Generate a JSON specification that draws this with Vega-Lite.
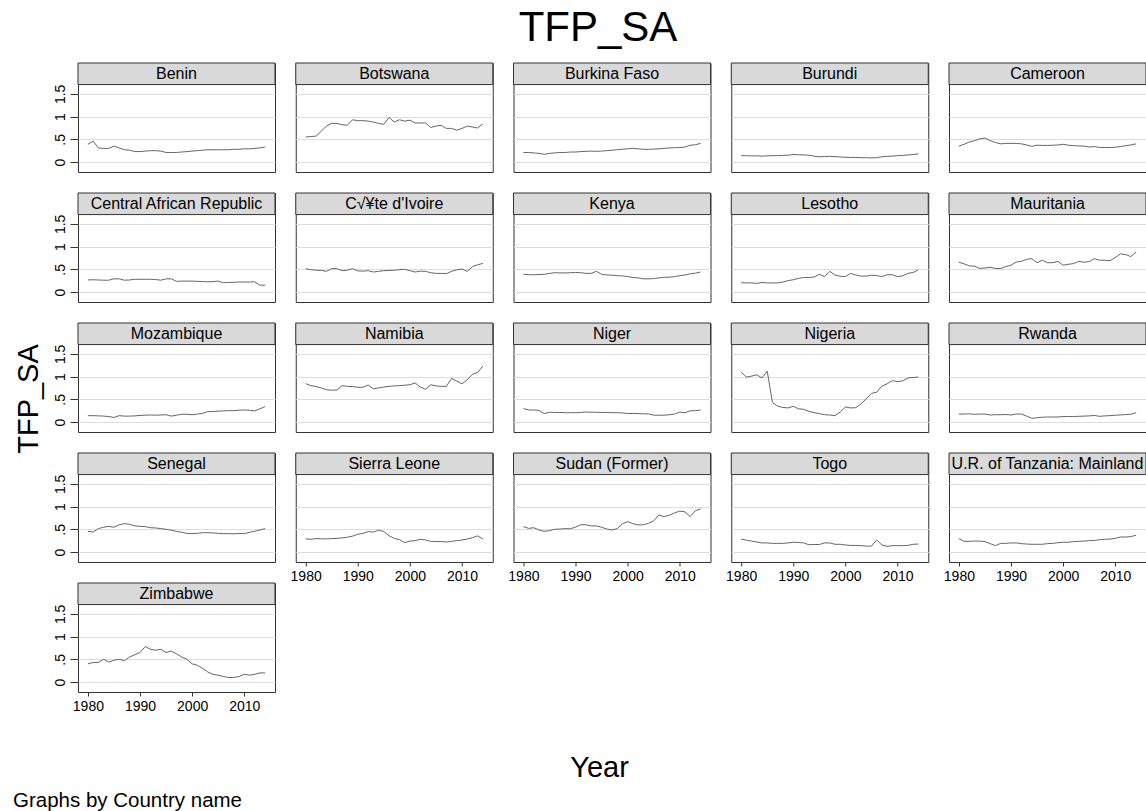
{
"$schema":"https://vega.github.io/schema/vega-lite/v6.json",
"background":"white",
"padding":{"left":13,"top":7,"right":0,"bottom":0},
"title":{"text":"Graphs by Country name","orient":"bottom","anchor":"start","fontSize":20.5,"fontWeight":"normal","font":"Liberation Sans","color":"#000000","offset":3},
"datasets":{
"Benin":[{"year":1980,"tfp":0.39},{"year":1981,"tfp":0.46},{"year":1982,"tfp":0.31},{"year":1983,"tfp":0.30},{"year":1984,"tfp":0.30},{"year":1985,"tfp":0.35},{"year":1986,"tfp":0.31},{"year":1987,"tfp":0.27},{"year":1988,"tfp":0.26},{"year":1989,"tfp":0.23},{"year":1990,"tfp":0.23},{"year":1991,"tfp":0.24},{"year":1992,"tfp":0.25},{"year":1993,"tfp":0.25},{"year":1994,"tfp":0.24},{"year":1995,"tfp":0.21},{"year":1996,"tfp":0.21},{"year":1997,"tfp":0.21},{"year":1998,"tfp":0.22},{"year":1999,"tfp":0.23},{"year":2000,"tfp":0.24},{"year":2001,"tfp":0.25},{"year":2002,"tfp":0.26},{"year":2003,"tfp":0.27},{"year":2004,"tfp":0.27},{"year":2005,"tfp":0.27},{"year":2006,"tfp":0.27},{"year":2007,"tfp":0.27},{"year":2008,"tfp":0.28},{"year":2009,"tfp":0.28},{"year":2010,"tfp":0.29},{"year":2011,"tfp":0.29},{"year":2012,"tfp":0.30},{"year":2013,"tfp":0.31},{"year":2014,"tfp":0.33}],
"Botswana":[{"year":1980,"tfp":0.55},{"year":1981,"tfp":0.56},{"year":1982,"tfp":0.57},{"year":1983,"tfp":0.68},{"year":1984,"tfp":0.79},{"year":1985,"tfp":0.85},{"year":1986,"tfp":0.85},{"year":1987,"tfp":0.82},{"year":1988,"tfp":0.81},{"year":1989,"tfp":0.93},{"year":1990,"tfp":0.91},{"year":1991,"tfp":0.91},{"year":1992,"tfp":0.90},{"year":1993,"tfp":0.88},{"year":1994,"tfp":0.85},{"year":1995,"tfp":0.83},{"year":1996,"tfp":0.98},{"year":1997,"tfp":0.88},{"year":1998,"tfp":0.93},{"year":1999,"tfp":0.90},{"year":2000,"tfp":0.92},{"year":2001,"tfp":0.86},{"year":2002,"tfp":0.86},{"year":2003,"tfp":0.86},{"year":2004,"tfp":0.76},{"year":2005,"tfp":0.79},{"year":2006,"tfp":0.81},{"year":2007,"tfp":0.74},{"year":2008,"tfp":0.74},{"year":2009,"tfp":0.70},{"year":2010,"tfp":0.74},{"year":2011,"tfp":0.79},{"year":2012,"tfp":0.77},{"year":2013,"tfp":0.75},{"year":2014,"tfp":0.84}],
"BurkinaFaso":[{"year":1980,"tfp":0.21},{"year":1981,"tfp":0.21},{"year":1982,"tfp":0.20},{"year":1983,"tfp":0.19},{"year":1984,"tfp":0.17},{"year":1985,"tfp":0.19},{"year":1986,"tfp":0.20},{"year":1987,"tfp":0.21},{"year":1988,"tfp":0.21},{"year":1989,"tfp":0.22},{"year":1990,"tfp":0.22},{"year":1991,"tfp":0.23},{"year":1992,"tfp":0.235},{"year":1993,"tfp":0.24},{"year":1994,"tfp":0.235},{"year":1995,"tfp":0.24},{"year":1996,"tfp":0.25},{"year":1997,"tfp":0.26},{"year":1998,"tfp":0.27},{"year":1999,"tfp":0.28},{"year":2000,"tfp":0.29},{"year":2001,"tfp":0.30},{"year":2002,"tfp":0.29},{"year":2003,"tfp":0.28},{"year":2004,"tfp":0.28},{"year":2005,"tfp":0.285},{"year":2006,"tfp":0.29},{"year":2007,"tfp":0.30},{"year":2008,"tfp":0.31},{"year":2009,"tfp":0.315},{"year":2010,"tfp":0.32},{"year":2011,"tfp":0.33},{"year":2012,"tfp":0.37},{"year":2013,"tfp":0.38},{"year":2014,"tfp":0.41}],
"Burundi":[{"year":1980,"tfp":0.14},{"year":1981,"tfp":0.14},{"year":1982,"tfp":0.135},{"year":1983,"tfp":0.135},{"year":1984,"tfp":0.13},{"year":1985,"tfp":0.135},{"year":1986,"tfp":0.14},{"year":1987,"tfp":0.14},{"year":1988,"tfp":0.145},{"year":1989,"tfp":0.15},{"year":1990,"tfp":0.165},{"year":1991,"tfp":0.16},{"year":1992,"tfp":0.155},{"year":1993,"tfp":0.15},{"year":1994,"tfp":0.13},{"year":1995,"tfp":0.115},{"year":1996,"tfp":0.12},{"year":1997,"tfp":0.125},{"year":1998,"tfp":0.12},{"year":1999,"tfp":0.11},{"year":2000,"tfp":0.105},{"year":2001,"tfp":0.10},{"year":2002,"tfp":0.10},{"year":2003,"tfp":0.095},{"year":2004,"tfp":0.095},{"year":2005,"tfp":0.09},{"year":2006,"tfp":0.095},{"year":2007,"tfp":0.115},{"year":2008,"tfp":0.125},{"year":2009,"tfp":0.13},{"year":2010,"tfp":0.14},{"year":2011,"tfp":0.145},{"year":2012,"tfp":0.155},{"year":2013,"tfp":0.165},{"year":2014,"tfp":0.18}],
"Cameroon":[{"year":1980,"tfp":0.35},{"year":1981,"tfp":0.39},{"year":1982,"tfp":0.44},{"year":1983,"tfp":0.47},{"year":1984,"tfp":0.51},{"year":1985,"tfp":0.53},{"year":1986,"tfp":0.47},{"year":1987,"tfp":0.43},{"year":1988,"tfp":0.40},{"year":1989,"tfp":0.41},{"year":1990,"tfp":0.41},{"year":1991,"tfp":0.41},{"year":1992,"tfp":0.40},{"year":1993,"tfp":0.375},{"year":1994,"tfp":0.345},{"year":1995,"tfp":0.37},{"year":1996,"tfp":0.365},{"year":1997,"tfp":0.365},{"year":1998,"tfp":0.37},{"year":1999,"tfp":0.375},{"year":2000,"tfp":0.39},{"year":2001,"tfp":0.37},{"year":2002,"tfp":0.36},{"year":2003,"tfp":0.355},{"year":2004,"tfp":0.35},{"year":2005,"tfp":0.33},{"year":2006,"tfp":0.34},{"year":2007,"tfp":0.32},{"year":2008,"tfp":0.32},{"year":2009,"tfp":0.32},{"year":2010,"tfp":0.325},{"year":2011,"tfp":0.34},{"year":2012,"tfp":0.36},{"year":2013,"tfp":0.375},{"year":2014,"tfp":0.40}],
"CAR":[{"year":1980,"tfp":0.265},{"year":1981,"tfp":0.27},{"year":1982,"tfp":0.265},{"year":1983,"tfp":0.26},{"year":1984,"tfp":0.26},{"year":1985,"tfp":0.29},{"year":1986,"tfp":0.29},{"year":1987,"tfp":0.26},{"year":1988,"tfp":0.265},{"year":1989,"tfp":0.28},{"year":1990,"tfp":0.28},{"year":1991,"tfp":0.28},{"year":1992,"tfp":0.28},{"year":1993,"tfp":0.275},{"year":1994,"tfp":0.26},{"year":1995,"tfp":0.29},{"year":1996,"tfp":0.29},{"year":1997,"tfp":0.235},{"year":1998,"tfp":0.24},{"year":1999,"tfp":0.24},{"year":2000,"tfp":0.24},{"year":2001,"tfp":0.235},{"year":2002,"tfp":0.23},{"year":2003,"tfp":0.225},{"year":2004,"tfp":0.23},{"year":2005,"tfp":0.24},{"year":2006,"tfp":0.205},{"year":2007,"tfp":0.21},{"year":2008,"tfp":0.215},{"year":2009,"tfp":0.22},{"year":2010,"tfp":0.22},{"year":2011,"tfp":0.22},{"year":2012,"tfp":0.225},{"year":2013,"tfp":0.15},{"year":2014,"tfp":0.15}],
"CIV":[{"year":1980,"tfp":0.515},{"year":1981,"tfp":0.49},{"year":1982,"tfp":0.48},{"year":1983,"tfp":0.475},{"year":1984,"tfp":0.455},{"year":1985,"tfp":0.515},{"year":1986,"tfp":0.515},{"year":1987,"tfp":0.47},{"year":1988,"tfp":0.48},{"year":1989,"tfp":0.515},{"year":1990,"tfp":0.465},{"year":1991,"tfp":0.46},{"year":1992,"tfp":0.47},{"year":1993,"tfp":0.44},{"year":1994,"tfp":0.455},{"year":1995,"tfp":0.47},{"year":1996,"tfp":0.475},{"year":1997,"tfp":0.48},{"year":1998,"tfp":0.49},{"year":1999,"tfp":0.50},{"year":2000,"tfp":0.47},{"year":2001,"tfp":0.44},{"year":2002,"tfp":0.46},{"year":2003,"tfp":0.455},{"year":2004,"tfp":0.425},{"year":2005,"tfp":0.41},{"year":2006,"tfp":0.41},{"year":2007,"tfp":0.405},{"year":2008,"tfp":0.455},{"year":2009,"tfp":0.49},{"year":2010,"tfp":0.505},{"year":2011,"tfp":0.455},{"year":2012,"tfp":0.56},{"year":2013,"tfp":0.60},{"year":2014,"tfp":0.63}],
"Kenya":[{"year":1980,"tfp":0.39},{"year":1981,"tfp":0.38},{"year":1982,"tfp":0.38},{"year":1983,"tfp":0.385},{"year":1984,"tfp":0.39},{"year":1985,"tfp":0.41},{"year":1986,"tfp":0.425},{"year":1987,"tfp":0.42},{"year":1988,"tfp":0.42},{"year":1989,"tfp":0.425},{"year":1990,"tfp":0.43},{"year":1991,"tfp":0.425},{"year":1992,"tfp":0.41},{"year":1993,"tfp":0.41},{"year":1994,"tfp":0.455},{"year":1995,"tfp":0.39},{"year":1996,"tfp":0.375},{"year":1997,"tfp":0.37},{"year":1998,"tfp":0.36},{"year":1999,"tfp":0.355},{"year":2000,"tfp":0.34},{"year":2001,"tfp":0.32},{"year":2002,"tfp":0.31},{"year":2003,"tfp":0.29},{"year":2004,"tfp":0.29},{"year":2005,"tfp":0.295},{"year":2006,"tfp":0.31},{"year":2007,"tfp":0.325},{"year":2008,"tfp":0.325},{"year":2009,"tfp":0.34},{"year":2010,"tfp":0.36},{"year":2011,"tfp":0.375},{"year":2012,"tfp":0.40},{"year":2013,"tfp":0.415},{"year":2014,"tfp":0.44}],
"Lesotho":[{"year":1980,"tfp":0.205},{"year":1981,"tfp":0.20},{"year":1982,"tfp":0.20},{"year":1983,"tfp":0.19},{"year":1984,"tfp":0.21},{"year":1985,"tfp":0.20},{"year":1986,"tfp":0.20},{"year":1987,"tfp":0.20},{"year":1988,"tfp":0.22},{"year":1989,"tfp":0.25},{"year":1990,"tfp":0.27},{"year":1991,"tfp":0.30},{"year":1992,"tfp":0.32},{"year":1993,"tfp":0.32},{"year":1994,"tfp":0.33},{"year":1995,"tfp":0.39},{"year":1996,"tfp":0.34},{"year":1997,"tfp":0.455},{"year":1998,"tfp":0.375},{"year":1999,"tfp":0.345},{"year":2000,"tfp":0.34},{"year":2001,"tfp":0.41},{"year":2002,"tfp":0.375},{"year":2003,"tfp":0.35},{"year":2004,"tfp":0.35},{"year":2005,"tfp":0.37},{"year":2006,"tfp":0.36},{"year":2007,"tfp":0.34},{"year":2008,"tfp":0.38},{"year":2009,"tfp":0.38},{"year":2010,"tfp":0.34},{"year":2011,"tfp":0.355},{"year":2012,"tfp":0.41},{"year":2013,"tfp":0.43},{"year":2014,"tfp":0.49}],
"Mauritania":[{"year":1980,"tfp":0.655},{"year":1981,"tfp":0.62},{"year":1982,"tfp":0.575},{"year":1983,"tfp":0.57},{"year":1984,"tfp":0.52},{"year":1985,"tfp":0.53},{"year":1986,"tfp":0.545},{"year":1987,"tfp":0.52},{"year":1988,"tfp":0.515},{"year":1989,"tfp":0.56},{"year":1990,"tfp":0.59},{"year":1991,"tfp":0.66},{"year":1992,"tfp":0.675},{"year":1993,"tfp":0.72},{"year":1994,"tfp":0.735},{"year":1995,"tfp":0.645},{"year":1996,"tfp":0.70},{"year":1997,"tfp":0.645},{"year":1998,"tfp":0.645},{"year":1999,"tfp":0.675},{"year":2000,"tfp":0.59},{"year":2001,"tfp":0.61},{"year":2002,"tfp":0.625},{"year":2003,"tfp":0.675},{"year":2004,"tfp":0.655},{"year":2005,"tfp":0.67},{"year":2006,"tfp":0.735},{"year":2007,"tfp":0.70},{"year":2008,"tfp":0.70},{"year":2009,"tfp":0.69},{"year":2010,"tfp":0.76},{"year":2011,"tfp":0.84},{"year":2012,"tfp":0.825},{"year":2013,"tfp":0.78},{"year":2014,"tfp":0.88}],
"Mozambique":[{"year":1980,"tfp":0.14},{"year":1981,"tfp":0.14},{"year":1982,"tfp":0.135},{"year":1983,"tfp":0.13},{"year":1984,"tfp":0.12},{"year":1985,"tfp":0.10},{"year":1986,"tfp":0.14},{"year":1987,"tfp":0.13},{"year":1988,"tfp":0.13},{"year":1989,"tfp":0.135},{"year":1990,"tfp":0.145},{"year":1991,"tfp":0.15},{"year":1992,"tfp":0.155},{"year":1993,"tfp":0.15},{"year":1994,"tfp":0.155},{"year":1995,"tfp":0.16},{"year":1996,"tfp":0.13},{"year":1997,"tfp":0.15},{"year":1998,"tfp":0.17},{"year":1999,"tfp":0.17},{"year":2000,"tfp":0.16},{"year":2001,"tfp":0.175},{"year":2002,"tfp":0.19},{"year":2003,"tfp":0.23},{"year":2004,"tfp":0.23},{"year":2005,"tfp":0.24},{"year":2006,"tfp":0.245},{"year":2007,"tfp":0.25},{"year":2008,"tfp":0.25},{"year":2009,"tfp":0.26},{"year":2010,"tfp":0.265},{"year":2011,"tfp":0.26},{"year":2012,"tfp":0.245},{"year":2013,"tfp":0.29},{"year":2014,"tfp":0.34}],
"Namibia":[{"year":1980,"tfp":0.845},{"year":1981,"tfp":0.80},{"year":1982,"tfp":0.78},{"year":1983,"tfp":0.75},{"year":1984,"tfp":0.71},{"year":1985,"tfp":0.70},{"year":1986,"tfp":0.705},{"year":1987,"tfp":0.80},{"year":1988,"tfp":0.785},{"year":1989,"tfp":0.78},{"year":1990,"tfp":0.765},{"year":1991,"tfp":0.765},{"year":1992,"tfp":0.815},{"year":1993,"tfp":0.73},{"year":1994,"tfp":0.75},{"year":1995,"tfp":0.77},{"year":1996,"tfp":0.785},{"year":1997,"tfp":0.795},{"year":1998,"tfp":0.80},{"year":1999,"tfp":0.81},{"year":2000,"tfp":0.82},{"year":2001,"tfp":0.86},{"year":2002,"tfp":0.77},{"year":2003,"tfp":0.72},{"year":2004,"tfp":0.82},{"year":2005,"tfp":0.795},{"year":2006,"tfp":0.785},{"year":2007,"tfp":0.785},{"year":2008,"tfp":0.96},{"year":2009,"tfp":0.90},{"year":2010,"tfp":0.84},{"year":2011,"tfp":0.93},{"year":2012,"tfp":1.05},{"year":2013,"tfp":1.09},{"year":2014,"tfp":1.23}],
"Niger":[{"year":1980,"tfp":0.295},{"year":1981,"tfp":0.265},{"year":1982,"tfp":0.265},{"year":1983,"tfp":0.255},{"year":1984,"tfp":0.185},{"year":1985,"tfp":0.215},{"year":1986,"tfp":0.21},{"year":1987,"tfp":0.21},{"year":1988,"tfp":0.205},{"year":1989,"tfp":0.205},{"year":1990,"tfp":0.205},{"year":1991,"tfp":0.21},{"year":1992,"tfp":0.22},{"year":1993,"tfp":0.215},{"year":1994,"tfp":0.215},{"year":1995,"tfp":0.21},{"year":1996,"tfp":0.21},{"year":1997,"tfp":0.205},{"year":1998,"tfp":0.205},{"year":1999,"tfp":0.20},{"year":2000,"tfp":0.185},{"year":2001,"tfp":0.19},{"year":2002,"tfp":0.185},{"year":2003,"tfp":0.18},{"year":2004,"tfp":0.18},{"year":2005,"tfp":0.15},{"year":2006,"tfp":0.15},{"year":2007,"tfp":0.15},{"year":2008,"tfp":0.16},{"year":2009,"tfp":0.175},{"year":2010,"tfp":0.22},{"year":2011,"tfp":0.205},{"year":2012,"tfp":0.245},{"year":2013,"tfp":0.25},{"year":2014,"tfp":0.265}],
"Nigeria":[{"year":1980,"tfp":1.10},{"year":1981,"tfp":0.99},{"year":1982,"tfp":1.01},{"year":1983,"tfp":1.04},{"year":1984,"tfp":0.97},{"year":1985,"tfp":1.12},{"year":1986,"tfp":0.43},{"year":1987,"tfp":0.35},{"year":1988,"tfp":0.32},{"year":1989,"tfp":0.31},{"year":1990,"tfp":0.345},{"year":1991,"tfp":0.29},{"year":1992,"tfp":0.28},{"year":1993,"tfp":0.235},{"year":1994,"tfp":0.205},{"year":1995,"tfp":0.185},{"year":1996,"tfp":0.16},{"year":1997,"tfp":0.155},{"year":1998,"tfp":0.14},{"year":1999,"tfp":0.22},{"year":2000,"tfp":0.33},{"year":2001,"tfp":0.31},{"year":2002,"tfp":0.315},{"year":2003,"tfp":0.40},{"year":2004,"tfp":0.51},{"year":2005,"tfp":0.63},{"year":2006,"tfp":0.655},{"year":2007,"tfp":0.79},{"year":2008,"tfp":0.84},{"year":2009,"tfp":0.91},{"year":2010,"tfp":0.89},{"year":2011,"tfp":0.905},{"year":2012,"tfp":0.97},{"year":2013,"tfp":0.98},{"year":2014,"tfp":0.99}],
"Rwanda":[{"year":1980,"tfp":0.175},{"year":1981,"tfp":0.175},{"year":1982,"tfp":0.18},{"year":1983,"tfp":0.17},{"year":1984,"tfp":0.175},{"year":1985,"tfp":0.175},{"year":1986,"tfp":0.155},{"year":1987,"tfp":0.16},{"year":1988,"tfp":0.16},{"year":1989,"tfp":0.165},{"year":1990,"tfp":0.155},{"year":1991,"tfp":0.175},{"year":1992,"tfp":0.175},{"year":1993,"tfp":0.13},{"year":1994,"tfp":0.08},{"year":1995,"tfp":0.095},{"year":1996,"tfp":0.105},{"year":1997,"tfp":0.11},{"year":1998,"tfp":0.11},{"year":1999,"tfp":0.11},{"year":2000,"tfp":0.12},{"year":2001,"tfp":0.12},{"year":2002,"tfp":0.12},{"year":2003,"tfp":0.125},{"year":2004,"tfp":0.13},{"year":2005,"tfp":0.135},{"year":2006,"tfp":0.145},{"year":2007,"tfp":0.125},{"year":2008,"tfp":0.135},{"year":2009,"tfp":0.14},{"year":2010,"tfp":0.15},{"year":2011,"tfp":0.155},{"year":2012,"tfp":0.165},{"year":2013,"tfp":0.17},{"year":2014,"tfp":0.205}],
"Senegal":[{"year":1980,"tfp":0.455},{"year":1981,"tfp":0.44},{"year":1982,"tfp":0.515},{"year":1983,"tfp":0.545},{"year":1984,"tfp":0.565},{"year":1985,"tfp":0.545},{"year":1986,"tfp":0.60},{"year":1987,"tfp":0.625},{"year":1988,"tfp":0.61},{"year":1989,"tfp":0.575},{"year":1990,"tfp":0.565},{"year":1991,"tfp":0.56},{"year":1992,"tfp":0.535},{"year":1993,"tfp":0.53},{"year":1994,"tfp":0.515},{"year":1995,"tfp":0.50},{"year":1996,"tfp":0.48},{"year":1997,"tfp":0.455},{"year":1998,"tfp":0.435},{"year":1999,"tfp":0.41},{"year":2000,"tfp":0.405},{"year":2001,"tfp":0.41},{"year":2002,"tfp":0.425},{"year":2003,"tfp":0.425},{"year":2004,"tfp":0.42},{"year":2005,"tfp":0.41},{"year":2006,"tfp":0.405},{"year":2007,"tfp":0.405},{"year":2008,"tfp":0.40},{"year":2009,"tfp":0.41},{"year":2010,"tfp":0.405},{"year":2011,"tfp":0.435},{"year":2012,"tfp":0.455},{"year":2013,"tfp":0.485},{"year":2014,"tfp":0.515}],
"SierraLeone":[{"year":1980,"tfp":0.29},{"year":1981,"tfp":0.28},{"year":1982,"tfp":0.295},{"year":1983,"tfp":0.29},{"year":1984,"tfp":0.29},{"year":1985,"tfp":0.295},{"year":1986,"tfp":0.30},{"year":1987,"tfp":0.31},{"year":1988,"tfp":0.325},{"year":1989,"tfp":0.35},{"year":1990,"tfp":0.39},{"year":1991,"tfp":0.41},{"year":1992,"tfp":0.45},{"year":1993,"tfp":0.44},{"year":1994,"tfp":0.48},{"year":1995,"tfp":0.45},{"year":1996,"tfp":0.36},{"year":1997,"tfp":0.30},{"year":1998,"tfp":0.27},{"year":1999,"tfp":0.205},{"year":2000,"tfp":0.24},{"year":2001,"tfp":0.25},{"year":2002,"tfp":0.28},{"year":2003,"tfp":0.265},{"year":2004,"tfp":0.235},{"year":2005,"tfp":0.23},{"year":2006,"tfp":0.23},{"year":2007,"tfp":0.22},{"year":2008,"tfp":0.235},{"year":2009,"tfp":0.25},{"year":2010,"tfp":0.265},{"year":2011,"tfp":0.285},{"year":2012,"tfp":0.315},{"year":2013,"tfp":0.355},{"year":2014,"tfp":0.285}],
"Sudan":[{"year":1980,"tfp":0.56},{"year":1981,"tfp":0.52},{"year":1982,"tfp":0.535},{"year":1983,"tfp":0.485},{"year":1984,"tfp":0.455},{"year":1985,"tfp":0.47},{"year":1986,"tfp":0.50},{"year":1987,"tfp":0.505},{"year":1988,"tfp":0.515},{"year":1989,"tfp":0.51},{"year":1990,"tfp":0.55},{"year":1991,"tfp":0.60},{"year":1992,"tfp":0.60},{"year":1993,"tfp":0.575},{"year":1994,"tfp":0.575},{"year":1995,"tfp":0.545},{"year":1996,"tfp":0.505},{"year":1997,"tfp":0.485},{"year":1998,"tfp":0.515},{"year":1999,"tfp":0.62},{"year":2000,"tfp":0.67},{"year":2001,"tfp":0.625},{"year":2002,"tfp":0.595},{"year":2003,"tfp":0.60},{"year":2004,"tfp":0.63},{"year":2005,"tfp":0.685},{"year":2006,"tfp":0.815},{"year":2007,"tfp":0.78},{"year":2008,"tfp":0.81},{"year":2009,"tfp":0.86},{"year":2010,"tfp":0.90},{"year":2011,"tfp":0.885},{"year":2012,"tfp":0.78},{"year":2013,"tfp":0.91},{"year":2014,"tfp":0.95}],
"Togo":[{"year":1980,"tfp":0.285},{"year":1981,"tfp":0.26},{"year":1982,"tfp":0.24},{"year":1983,"tfp":0.22},{"year":1984,"tfp":0.20},{"year":1985,"tfp":0.20},{"year":1986,"tfp":0.19},{"year":1987,"tfp":0.19},{"year":1988,"tfp":0.19},{"year":1989,"tfp":0.20},{"year":1990,"tfp":0.215},{"year":1991,"tfp":0.21},{"year":1992,"tfp":0.20},{"year":1993,"tfp":0.16},{"year":1994,"tfp":0.165},{"year":1995,"tfp":0.165},{"year":1996,"tfp":0.20},{"year":1997,"tfp":0.20},{"year":1998,"tfp":0.17},{"year":1999,"tfp":0.17},{"year":2000,"tfp":0.155},{"year":2001,"tfp":0.145},{"year":2002,"tfp":0.145},{"year":2003,"tfp":0.14},{"year":2004,"tfp":0.13},{"year":2005,"tfp":0.13},{"year":2006,"tfp":0.265},{"year":2007,"tfp":0.155},{"year":2008,"tfp":0.125},{"year":2009,"tfp":0.14},{"year":2010,"tfp":0.14},{"year":2011,"tfp":0.14},{"year":2012,"tfp":0.145},{"year":2013,"tfp":0.17},{"year":2014,"tfp":0.175}],
"Tanzania":[{"year":1980,"tfp":0.295},{"year":1981,"tfp":0.235},{"year":1982,"tfp":0.235},{"year":1983,"tfp":0.24},{"year":1984,"tfp":0.24},{"year":1985,"tfp":0.23},{"year":1986,"tfp":0.185},{"year":1987,"tfp":0.14},{"year":1988,"tfp":0.19},{"year":1989,"tfp":0.19},{"year":1990,"tfp":0.20},{"year":1991,"tfp":0.20},{"year":1992,"tfp":0.185},{"year":1993,"tfp":0.175},{"year":1994,"tfp":0.17},{"year":1995,"tfp":0.17},{"year":1996,"tfp":0.17},{"year":1997,"tfp":0.185},{"year":1998,"tfp":0.19},{"year":1999,"tfp":0.205},{"year":2000,"tfp":0.215},{"year":2001,"tfp":0.215},{"year":2002,"tfp":0.23},{"year":2003,"tfp":0.235},{"year":2004,"tfp":0.24},{"year":2005,"tfp":0.25},{"year":2006,"tfp":0.255},{"year":2007,"tfp":0.27},{"year":2008,"tfp":0.28},{"year":2009,"tfp":0.285},{"year":2010,"tfp":0.30},{"year":2011,"tfp":0.33},{"year":2012,"tfp":0.33},{"year":2013,"tfp":0.34},{"year":2014,"tfp":0.37}],
"Zimbabwe":[{"year":1980,"tfp":0.40},{"year":1981,"tfp":0.43},{"year":1982,"tfp":0.43},{"year":1983,"tfp":0.50},{"year":1984,"tfp":0.44},{"year":1985,"tfp":0.48},{"year":1986,"tfp":0.50},{"year":1987,"tfp":0.47},{"year":1988,"tfp":0.55},{"year":1989,"tfp":0.60},{"year":1990,"tfp":0.65},{"year":1991,"tfp":0.78},{"year":1992,"tfp":0.72},{"year":1993,"tfp":0.70},{"year":1994,"tfp":0.72},{"year":1995,"tfp":0.65},{"year":1996,"tfp":0.68},{"year":1997,"tfp":0.62},{"year":1998,"tfp":0.55},{"year":1999,"tfp":0.50},{"year":2000,"tfp":0.40},{"year":2001,"tfp":0.37},{"year":2002,"tfp":0.30},{"year":2003,"tfp":0.22},{"year":2004,"tfp":0.17},{"year":2005,"tfp":0.15},{"year":2006,"tfp":0.12},{"year":2007,"tfp":0.10},{"year":2008,"tfp":0.10},{"year":2009,"tfp":0.12},{"year":2010,"tfp":0.17},{"year":2011,"tfp":0.15},{"year":2012,"tfp":0.17},{"year":2013,"tfp":0.20},{"year":2014,"tfp":0.20}]
},
"spacing":13,
"vconcat":[
{"title":{"text":"TFP_SA","fontSize":42,"fontWeight":"normal","font":"Liberation Sans","color":"#000000","anchor":"middle","offset":12,"dx":18},
"spacing":7,
"hconcat":[
{"width":32,"height":672,"view":{"stroke":null},"data":{"values":[{"t":"TFP_SA"}]},"mark":{"type":"text","angle":270,"fontSize":29,"align":"center","baseline":"middle","font":"Liberation Sans","color":"#000000"},"encoding":{"text":{"field":"t"}}},
{"columns":5,"bounds":"flush","spacing":{"row":21,"column":20.75},"concat":[
{"width":197,"height":109,"layer":[{"data":{"name":"Benin"},"mark":{"type":"line","color":"#666666","strokeWidth":1},"encoding":{"x":{"field":"year","type":"quantitative","scale":{"domain":[1978.1,2015.9],"nice":false,"zero":false},"axis":null},"y":{"field":"tfp","type":"quantitative","scale":{"domain":[-0.22,2.18],"nice":false,"zero":false},"axis":{"title":null,"values":[0,0.5,1,1.5],"tickCount":8,"grid":true,"labelOverlap":false,"labelExpr":"replace(format(datum.value,'~g'),'0.','.')","labelAngle":270,"labelAlign":"center","labelBaseline":"bottom","labelFontSize":14,"tickSize":8,"labelPadding":3}}}},{"data":{"values":[{"country":"Benin"}]},"layer":[{"mark":{"type":"rect","fill":"#d9d9d9","stroke":"#333333","strokeWidth":1},"encoding":{"x":{"datum":1978.1},"x2":{"datum":2015.9},"y":{"datum":1.705},"y2":{"datum":2.18}}},{"mark":{"type":"text","fontSize":16,"baseline":"middle","color":"#000000"},"encoding":{"x":{"datum":1997},"y":{"datum":1.9425},"text":{"field":"country"}}}]}]},
{"width":197,"height":109,"layer":[{"data":{"name":"Botswana"},"mark":{"type":"line","color":"#666666","strokeWidth":1},"encoding":{"x":{"field":"year","type":"quantitative","scale":{"domain":[1978.1,2015.9],"nice":false,"zero":false},"axis":null},"y":{"field":"tfp","type":"quantitative","scale":{"domain":[-0.22,2.18],"nice":false,"zero":false},"axis":{"title":null,"values":[0,0.5,1,1.5],"tickCount":8,"grid":true,"labels":false,"ticks":false}}}},{"data":{"values":[{"country":"Botswana"}]},"layer":[{"mark":{"type":"rect","fill":"#d9d9d9","stroke":"#333333","strokeWidth":1},"encoding":{"x":{"datum":1978.1},"x2":{"datum":2015.9},"y":{"datum":1.705},"y2":{"datum":2.18}}},{"mark":{"type":"text","fontSize":16,"baseline":"middle","color":"#000000"},"encoding":{"x":{"datum":1997},"y":{"datum":1.9425},"text":{"field":"country"}}}]}]},
{"width":197,"height":109,"layer":[{"data":{"name":"BurkinaFaso"},"mark":{"type":"line","color":"#666666","strokeWidth":1},"encoding":{"x":{"field":"year","type":"quantitative","scale":{"domain":[1978.1,2015.9],"nice":false,"zero":false},"axis":null},"y":{"field":"tfp","type":"quantitative","scale":{"domain":[-0.22,2.18],"nice":false,"zero":false},"axis":{"title":null,"values":[0,0.5,1,1.5],"tickCount":8,"grid":true,"labels":false,"ticks":false}}}},{"data":{"values":[{"country":"Burkina Faso"}]},"layer":[{"mark":{"type":"rect","fill":"#d9d9d9","stroke":"#333333","strokeWidth":1},"encoding":{"x":{"datum":1978.1},"x2":{"datum":2015.9},"y":{"datum":1.705},"y2":{"datum":2.18}}},{"mark":{"type":"text","fontSize":16,"baseline":"middle","color":"#000000"},"encoding":{"x":{"datum":1997},"y":{"datum":1.9425},"text":{"field":"country"}}}]}]},
{"width":197,"height":109,"layer":[{"data":{"name":"Burundi"},"mark":{"type":"line","color":"#666666","strokeWidth":1},"encoding":{"x":{"field":"year","type":"quantitative","scale":{"domain":[1978.1,2015.9],"nice":false,"zero":false},"axis":null},"y":{"field":"tfp","type":"quantitative","scale":{"domain":[-0.22,2.18],"nice":false,"zero":false},"axis":{"title":null,"values":[0,0.5,1,1.5],"tickCount":8,"grid":true,"labels":false,"ticks":false}}}},{"data":{"values":[{"country":"Burundi"}]},"layer":[{"mark":{"type":"rect","fill":"#d9d9d9","stroke":"#333333","strokeWidth":1},"encoding":{"x":{"datum":1978.1},"x2":{"datum":2015.9},"y":{"datum":1.705},"y2":{"datum":2.18}}},{"mark":{"type":"text","fontSize":16,"baseline":"middle","color":"#000000"},"encoding":{"x":{"datum":1997},"y":{"datum":1.9425},"text":{"field":"country"}}}]}]},
{"width":197,"height":109,"layer":[{"data":{"name":"Cameroon"},"mark":{"type":"line","color":"#666666","strokeWidth":1},"encoding":{"x":{"field":"year","type":"quantitative","scale":{"domain":[1978.1,2015.9],"nice":false,"zero":false},"axis":null},"y":{"field":"tfp","type":"quantitative","scale":{"domain":[-0.22,2.18],"nice":false,"zero":false},"axis":{"title":null,"values":[0,0.5,1,1.5],"tickCount":8,"grid":true,"labels":false,"ticks":false}}}},{"data":{"values":[{"country":"Cameroon"}]},"layer":[{"mark":{"type":"rect","fill":"#d9d9d9","stroke":"#333333","strokeWidth":1},"encoding":{"x":{"datum":1978.1},"x2":{"datum":2015.9},"y":{"datum":1.705},"y2":{"datum":2.18}}},{"mark":{"type":"text","fontSize":16,"baseline":"middle","color":"#000000"},"encoding":{"x":{"datum":1997},"y":{"datum":1.9425},"text":{"field":"country"}}}]}]},
{"width":197,"height":109,"layer":[{"data":{"name":"CAR"},"mark":{"type":"line","color":"#666666","strokeWidth":1},"encoding":{"x":{"field":"year","type":"quantitative","scale":{"domain":[1978.1,2015.9],"nice":false,"zero":false},"axis":null},"y":{"field":"tfp","type":"quantitative","scale":{"domain":[-0.22,2.18],"nice":false,"zero":false},"axis":{"title":null,"values":[0,0.5,1,1.5],"tickCount":8,"grid":true,"labelOverlap":false,"labelExpr":"replace(format(datum.value,'~g'),'0.','.')","labelAngle":270,"labelAlign":"center","labelBaseline":"bottom","labelFontSize":14,"tickSize":8,"labelPadding":3}}}},{"data":{"values":[{"country":"Central African Republic"}]},"layer":[{"mark":{"type":"rect","fill":"#d9d9d9","stroke":"#333333","strokeWidth":1},"encoding":{"x":{"datum":1978.1},"x2":{"datum":2015.9},"y":{"datum":1.705},"y2":{"datum":2.18}}},{"mark":{"type":"text","fontSize":16,"baseline":"middle","color":"#000000"},"encoding":{"x":{"datum":1997},"y":{"datum":1.9425},"text":{"field":"country"}}}]}]},
{"width":197,"height":109,"layer":[{"data":{"name":"CIV"},"mark":{"type":"line","color":"#666666","strokeWidth":1},"encoding":{"x":{"field":"year","type":"quantitative","scale":{"domain":[1978.1,2015.9],"nice":false,"zero":false},"axis":null},"y":{"field":"tfp","type":"quantitative","scale":{"domain":[-0.22,2.18],"nice":false,"zero":false},"axis":{"title":null,"values":[0,0.5,1,1.5],"tickCount":8,"grid":true,"labels":false,"ticks":false}}}},{"data":{"values":[{"country":"C√¥te d'Ivoire"}]},"layer":[{"mark":{"type":"rect","fill":"#d9d9d9","stroke":"#333333","strokeWidth":1},"encoding":{"x":{"datum":1978.1},"x2":{"datum":2015.9},"y":{"datum":1.705},"y2":{"datum":2.18}}},{"mark":{"type":"text","fontSize":16,"baseline":"middle","color":"#000000"},"encoding":{"x":{"datum":1997},"y":{"datum":1.9425},"text":{"field":"country"}}}]}]},
{"width":197,"height":109,"layer":[{"data":{"name":"Kenya"},"mark":{"type":"line","color":"#666666","strokeWidth":1},"encoding":{"x":{"field":"year","type":"quantitative","scale":{"domain":[1978.1,2015.9],"nice":false,"zero":false},"axis":null},"y":{"field":"tfp","type":"quantitative","scale":{"domain":[-0.22,2.18],"nice":false,"zero":false},"axis":{"title":null,"values":[0,0.5,1,1.5],"tickCount":8,"grid":true,"labels":false,"ticks":false}}}},{"data":{"values":[{"country":"Kenya"}]},"layer":[{"mark":{"type":"rect","fill":"#d9d9d9","stroke":"#333333","strokeWidth":1},"encoding":{"x":{"datum":1978.1},"x2":{"datum":2015.9},"y":{"datum":1.705},"y2":{"datum":2.18}}},{"mark":{"type":"text","fontSize":16,"baseline":"middle","color":"#000000"},"encoding":{"x":{"datum":1997},"y":{"datum":1.9425},"text":{"field":"country"}}}]}]},
{"width":197,"height":109,"layer":[{"data":{"name":"Lesotho"},"mark":{"type":"line","color":"#666666","strokeWidth":1},"encoding":{"x":{"field":"year","type":"quantitative","scale":{"domain":[1978.1,2015.9],"nice":false,"zero":false},"axis":null},"y":{"field":"tfp","type":"quantitative","scale":{"domain":[-0.22,2.18],"nice":false,"zero":false},"axis":{"title":null,"values":[0,0.5,1,1.5],"tickCount":8,"grid":true,"labels":false,"ticks":false}}}},{"data":{"values":[{"country":"Lesotho"}]},"layer":[{"mark":{"type":"rect","fill":"#d9d9d9","stroke":"#333333","strokeWidth":1},"encoding":{"x":{"datum":1978.1},"x2":{"datum":2015.9},"y":{"datum":1.705},"y2":{"datum":2.18}}},{"mark":{"type":"text","fontSize":16,"baseline":"middle","color":"#000000"},"encoding":{"x":{"datum":1997},"y":{"datum":1.9425},"text":{"field":"country"}}}]}]},
{"width":197,"height":109,"layer":[{"data":{"name":"Mauritania"},"mark":{"type":"line","color":"#666666","strokeWidth":1},"encoding":{"x":{"field":"year","type":"quantitative","scale":{"domain":[1978.1,2015.9],"nice":false,"zero":false},"axis":null},"y":{"field":"tfp","type":"quantitative","scale":{"domain":[-0.22,2.18],"nice":false,"zero":false},"axis":{"title":null,"values":[0,0.5,1,1.5],"tickCount":8,"grid":true,"labels":false,"ticks":false}}}},{"data":{"values":[{"country":"Mauritania"}]},"layer":[{"mark":{"type":"rect","fill":"#d9d9d9","stroke":"#333333","strokeWidth":1},"encoding":{"x":{"datum":1978.1},"x2":{"datum":2015.9},"y":{"datum":1.705},"y2":{"datum":2.18}}},{"mark":{"type":"text","fontSize":16,"baseline":"middle","color":"#000000"},"encoding":{"x":{"datum":1997},"y":{"datum":1.9425},"text":{"field":"country"}}}]}]},
{"width":197,"height":109,"layer":[{"data":{"name":"Mozambique"},"mark":{"type":"line","color":"#666666","strokeWidth":1},"encoding":{"x":{"field":"year","type":"quantitative","scale":{"domain":[1978.1,2015.9],"nice":false,"zero":false},"axis":null},"y":{"field":"tfp","type":"quantitative","scale":{"domain":[-0.22,2.18],"nice":false,"zero":false},"axis":{"title":null,"values":[0,0.5,1,1.5],"tickCount":8,"grid":true,"labelOverlap":false,"labelExpr":"replace(format(datum.value,'~g'),'0.','.')","labelAngle":270,"labelAlign":"center","labelBaseline":"bottom","labelFontSize":14,"tickSize":8,"labelPadding":3}}}},{"data":{"values":[{"country":"Mozambique"}]},"layer":[{"mark":{"type":"rect","fill":"#d9d9d9","stroke":"#333333","strokeWidth":1},"encoding":{"x":{"datum":1978.1},"x2":{"datum":2015.9},"y":{"datum":1.705},"y2":{"datum":2.18}}},{"mark":{"type":"text","fontSize":16,"baseline":"middle","color":"#000000"},"encoding":{"x":{"datum":1997},"y":{"datum":1.9425},"text":{"field":"country"}}}]}]},
{"width":197,"height":109,"layer":[{"data":{"name":"Namibia"},"mark":{"type":"line","color":"#666666","strokeWidth":1},"encoding":{"x":{"field":"year","type":"quantitative","scale":{"domain":[1978.1,2015.9],"nice":false,"zero":false},"axis":null},"y":{"field":"tfp","type":"quantitative","scale":{"domain":[-0.22,2.18],"nice":false,"zero":false},"axis":{"title":null,"values":[0,0.5,1,1.5],"tickCount":8,"grid":true,"labels":false,"ticks":false}}}},{"data":{"values":[{"country":"Namibia"}]},"layer":[{"mark":{"type":"rect","fill":"#d9d9d9","stroke":"#333333","strokeWidth":1},"encoding":{"x":{"datum":1978.1},"x2":{"datum":2015.9},"y":{"datum":1.705},"y2":{"datum":2.18}}},{"mark":{"type":"text","fontSize":16,"baseline":"middle","color":"#000000"},"encoding":{"x":{"datum":1997},"y":{"datum":1.9425},"text":{"field":"country"}}}]}]},
{"width":197,"height":109,"layer":[{"data":{"name":"Niger"},"mark":{"type":"line","color":"#666666","strokeWidth":1},"encoding":{"x":{"field":"year","type":"quantitative","scale":{"domain":[1978.1,2015.9],"nice":false,"zero":false},"axis":null},"y":{"field":"tfp","type":"quantitative","scale":{"domain":[-0.22,2.18],"nice":false,"zero":false},"axis":{"title":null,"values":[0,0.5,1,1.5],"tickCount":8,"grid":true,"labels":false,"ticks":false}}}},{"data":{"values":[{"country":"Niger"}]},"layer":[{"mark":{"type":"rect","fill":"#d9d9d9","stroke":"#333333","strokeWidth":1},"encoding":{"x":{"datum":1978.1},"x2":{"datum":2015.9},"y":{"datum":1.705},"y2":{"datum":2.18}}},{"mark":{"type":"text","fontSize":16,"baseline":"middle","color":"#000000"},"encoding":{"x":{"datum":1997},"y":{"datum":1.9425},"text":{"field":"country"}}}]}]},
{"width":197,"height":109,"layer":[{"data":{"name":"Nigeria"},"mark":{"type":"line","color":"#666666","strokeWidth":1},"encoding":{"x":{"field":"year","type":"quantitative","scale":{"domain":[1978.1,2015.9],"nice":false,"zero":false},"axis":null},"y":{"field":"tfp","type":"quantitative","scale":{"domain":[-0.22,2.18],"nice":false,"zero":false},"axis":{"title":null,"values":[0,0.5,1,1.5],"tickCount":8,"grid":true,"labels":false,"ticks":false}}}},{"data":{"values":[{"country":"Nigeria"}]},"layer":[{"mark":{"type":"rect","fill":"#d9d9d9","stroke":"#333333","strokeWidth":1},"encoding":{"x":{"datum":1978.1},"x2":{"datum":2015.9},"y":{"datum":1.705},"y2":{"datum":2.18}}},{"mark":{"type":"text","fontSize":16,"baseline":"middle","color":"#000000"},"encoding":{"x":{"datum":1997},"y":{"datum":1.9425},"text":{"field":"country"}}}]}]},
{"width":197,"height":109,"layer":[{"data":{"name":"Rwanda"},"mark":{"type":"line","color":"#666666","strokeWidth":1},"encoding":{"x":{"field":"year","type":"quantitative","scale":{"domain":[1978.1,2015.9],"nice":false,"zero":false},"axis":null},"y":{"field":"tfp","type":"quantitative","scale":{"domain":[-0.22,2.18],"nice":false,"zero":false},"axis":{"title":null,"values":[0,0.5,1,1.5],"tickCount":8,"grid":true,"labels":false,"ticks":false}}}},{"data":{"values":[{"country":"Rwanda"}]},"layer":[{"mark":{"type":"rect","fill":"#d9d9d9","stroke":"#333333","strokeWidth":1},"encoding":{"x":{"datum":1978.1},"x2":{"datum":2015.9},"y":{"datum":1.705},"y2":{"datum":2.18}}},{"mark":{"type":"text","fontSize":16,"baseline":"middle","color":"#000000"},"encoding":{"x":{"datum":1997},"y":{"datum":1.9425},"text":{"field":"country"}}}]}]},
{"width":197,"height":109,"layer":[{"data":{"name":"Senegal"},"mark":{"type":"line","color":"#666666","strokeWidth":1},"encoding":{"x":{"field":"year","type":"quantitative","scale":{"domain":[1978.1,2015.9],"nice":false,"zero":false},"axis":null},"y":{"field":"tfp","type":"quantitative","scale":{"domain":[-0.22,2.18],"nice":false,"zero":false},"axis":{"title":null,"values":[0,0.5,1,1.5],"tickCount":8,"grid":true,"labelOverlap":false,"labelExpr":"replace(format(datum.value,'~g'),'0.','.')","labelAngle":270,"labelAlign":"center","labelBaseline":"bottom","labelFontSize":14,"tickSize":8,"labelPadding":3}}}},{"data":{"values":[{"country":"Senegal"}]},"layer":[{"mark":{"type":"rect","fill":"#d9d9d9","stroke":"#333333","strokeWidth":1},"encoding":{"x":{"datum":1978.1},"x2":{"datum":2015.9},"y":{"datum":1.705},"y2":{"datum":2.18}}},{"mark":{"type":"text","fontSize":16,"baseline":"middle","color":"#000000"},"encoding":{"x":{"datum":1997},"y":{"datum":1.9425},"text":{"field":"country"}}}]}]},
{"width":197,"height":109,"layer":[{"data":{"name":"SierraLeone"},"mark":{"type":"line","color":"#666666","strokeWidth":1},"encoding":{"x":{"field":"year","type":"quantitative","scale":{"domain":[1978.1,2015.9],"nice":false,"zero":false},"axis":{"title":null,"values":[1980,1990,2000,2010],"tickCount":8,"format":"d","grid":false,"labelFontSize":14,"tickSize":4,"labelPadding":3}},"y":{"field":"tfp","type":"quantitative","scale":{"domain":[-0.22,2.18],"nice":false,"zero":false},"axis":{"title":null,"values":[0,0.5,1,1.5],"tickCount":8,"grid":true,"labels":false,"ticks":false}}}},{"data":{"values":[{"country":"Sierra Leone"}]},"layer":[{"mark":{"type":"rect","fill":"#d9d9d9","stroke":"#333333","strokeWidth":1},"encoding":{"x":{"datum":1978.1},"x2":{"datum":2015.9},"y":{"datum":1.705},"y2":{"datum":2.18}}},{"mark":{"type":"text","fontSize":16,"baseline":"middle","color":"#000000"},"encoding":{"x":{"datum":1997},"y":{"datum":1.9425},"text":{"field":"country"}}}]}]},
{"width":197,"height":109,"layer":[{"data":{"name":"Sudan"},"mark":{"type":"line","color":"#666666","strokeWidth":1},"encoding":{"x":{"field":"year","type":"quantitative","scale":{"domain":[1978.1,2015.9],"nice":false,"zero":false},"axis":{"title":null,"values":[1980,1990,2000,2010],"tickCount":8,"format":"d","grid":false,"labelFontSize":14,"tickSize":4,"labelPadding":3}},"y":{"field":"tfp","type":"quantitative","scale":{"domain":[-0.22,2.18],"nice":false,"zero":false},"axis":{"title":null,"values":[0,0.5,1,1.5],"tickCount":8,"grid":true,"labels":false,"ticks":false}}}},{"data":{"values":[{"country":"Sudan (Former)"}]},"layer":[{"mark":{"type":"rect","fill":"#d9d9d9","stroke":"#333333","strokeWidth":1},"encoding":{"x":{"datum":1978.1},"x2":{"datum":2015.9},"y":{"datum":1.705},"y2":{"datum":2.18}}},{"mark":{"type":"text","fontSize":16,"baseline":"middle","color":"#000000"},"encoding":{"x":{"datum":1997},"y":{"datum":1.9425},"text":{"field":"country"}}}]}]},
{"width":197,"height":109,"layer":[{"data":{"name":"Togo"},"mark":{"type":"line","color":"#666666","strokeWidth":1},"encoding":{"x":{"field":"year","type":"quantitative","scale":{"domain":[1978.1,2015.9],"nice":false,"zero":false},"axis":{"title":null,"values":[1980,1990,2000,2010],"tickCount":8,"format":"d","grid":false,"labelFontSize":14,"tickSize":4,"labelPadding":3}},"y":{"field":"tfp","type":"quantitative","scale":{"domain":[-0.22,2.18],"nice":false,"zero":false},"axis":{"title":null,"values":[0,0.5,1,1.5],"tickCount":8,"grid":true,"labels":false,"ticks":false}}}},{"data":{"values":[{"country":"Togo"}]},"layer":[{"mark":{"type":"rect","fill":"#d9d9d9","stroke":"#333333","strokeWidth":1},"encoding":{"x":{"datum":1978.1},"x2":{"datum":2015.9},"y":{"datum":1.705},"y2":{"datum":2.18}}},{"mark":{"type":"text","fontSize":16,"baseline":"middle","color":"#000000"},"encoding":{"x":{"datum":1997},"y":{"datum":1.9425},"text":{"field":"country"}}}]}]},
{"width":197,"height":109,"layer":[{"data":{"name":"Tanzania"},"mark":{"type":"line","color":"#666666","strokeWidth":1},"encoding":{"x":{"field":"year","type":"quantitative","scale":{"domain":[1978.1,2015.9],"nice":false,"zero":false},"axis":{"title":null,"values":[1980,1990,2000,2010],"tickCount":8,"format":"d","grid":false,"labelFontSize":14,"tickSize":4,"labelPadding":3}},"y":{"field":"tfp","type":"quantitative","scale":{"domain":[-0.22,2.18],"nice":false,"zero":false},"axis":{"title":null,"values":[0,0.5,1,1.5],"tickCount":8,"grid":true,"labels":false,"ticks":false}}}},{"data":{"values":[{"country":"U.R. of Tanzania: Mainland"}]},"layer":[{"mark":{"type":"rect","fill":"#d9d9d9","stroke":"#333333","strokeWidth":1},"encoding":{"x":{"datum":1978.1},"x2":{"datum":2015.9},"y":{"datum":1.705},"y2":{"datum":2.18}}},{"mark":{"type":"text","fontSize":16,"baseline":"middle","color":"#000000"},"encoding":{"x":{"datum":1997},"y":{"datum":1.9425},"text":{"field":"country"}}}]}]},
{"width":197,"height":109,"layer":[{"data":{"name":"Zimbabwe"},"mark":{"type":"line","color":"#666666","strokeWidth":1},"encoding":{"x":{"field":"year","type":"quantitative","scale":{"domain":[1978.1,2015.9],"nice":false,"zero":false},"axis":{"title":null,"values":[1980,1990,2000,2010],"tickCount":8,"format":"d","grid":false,"labelFontSize":14,"tickSize":4,"labelPadding":3}},"y":{"field":"tfp","type":"quantitative","scale":{"domain":[-0.22,2.18],"nice":false,"zero":false},"axis":{"title":null,"values":[0,0.5,1,1.5],"tickCount":8,"grid":true,"labelOverlap":false,"labelExpr":"replace(format(datum.value,'~g'),'0.','.')","labelAngle":270,"labelAlign":"center","labelBaseline":"bottom","labelFontSize":14,"tickSize":8,"labelPadding":3}}}},{"data":{"values":[{"country":"Zimbabwe"}]},"layer":[{"mark":{"type":"rect","fill":"#d9d9d9","stroke":"#333333","strokeWidth":1},"encoding":{"x":{"datum":1978.1},"x2":{"datum":2015.9},"y":{"datum":1.705},"y2":{"datum":2.18}}},{"mark":{"type":"text","fontSize":16,"baseline":"middle","color":"#000000"},"encoding":{"x":{"datum":1997},"y":{"datum":1.9425},"text":{"field":"country"}}}]}]}
]}
]},
{"width":1133,"height":40,"view":{"stroke":null},"data":{"values":[{"t":"Year"}]},"mark":{"type":"text","fontSize":29,"align":"center","baseline":"middle","dx":20,"font":"Liberation Sans","color":"#000000"},"encoding":{"text":{"field":"t"}}}
],
"config":{
"font":"Liberation Sans",
"view":{"stroke":"#333333","strokeWidth":1},
"axis":{"domain":false,"labelFont":"Liberation Sans","labelColor":"#000000","tickColor":"#333333","gridColor":"#dddddd","gridWidth":1},
"text":{"font":"Liberation Sans"}
}
}
